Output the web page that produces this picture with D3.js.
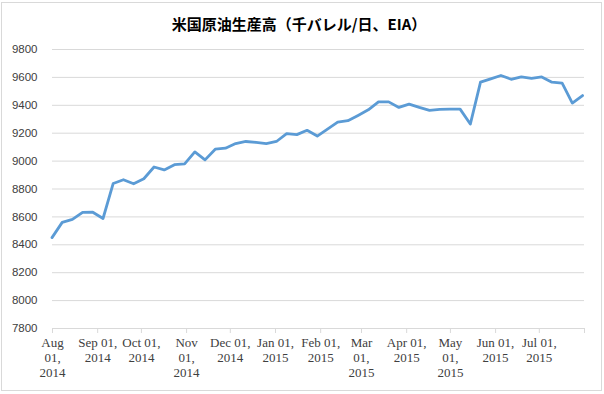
<!DOCTYPE html>
<html>
<head>
<meta charset="utf-8">
<script src="https://cdn.jsdelivr.net/npm/d3@7"></script>
<style>
  body { margin: 0; background: #fff; }
</style>
</head>
<body>
<svg id="chart" width="604" height="394"></svg>
<script>
// Data (weekly)
const weekDates = [
  "2014-08-01", "2014-08-08", "2014-08-15", "2014-08-22", "2014-08-29",
  "2014-09-05", "2014-09-12", "2014-09-19", "2014-09-26",
  "2014-10-03", "2014-10-10", "2014-10-17", "2014-10-24", "2014-10-31",
  "2014-11-07", "2014-11-14", "2014-11-21", "2014-11-28",
  "2014-12-05", "2014-12-12", "2014-12-19", "2014-12-26",
  "2015-01-02", "2015-01-09", "2015-01-16", "2015-01-23", "2015-01-30",
  "2015-02-06", "2015-02-13", "2015-02-20", "2015-02-27",
  "2015-03-06", "2015-03-13", "2015-03-20", "2015-03-27",
  "2015-04-03", "2015-04-10", "2015-04-17", "2015-04-24",
  "2015-05-01", "2015-05-08", "2015-05-15", "2015-05-22", "2015-05-29",
  "2015-06-05", "2015-06-12", "2015-06-19", "2015-06-26",
  "2015-07-03", "2015-07-10", "2015-07-17", "2015-07-24", "2015-07-31"
];
const production = [
  8448, 8557, 8578, 8629, 8630,
  8585, 8836, 8863, 8834,
  8870, 8954, 8933, 8971, 8976,
  9062, 9005, 9082, 9089,
  9122, 9137, 9130, 9122,
  9137, 9193, 9186, 9217, 9176,
  9226, 9276, 9286, 9324,
  9364, 9421, 9421, 9381,
  9405, 9381, 9360, 9367,
  9369, 9369, 9262, 9562, 9586,
  9610, 9583, 9600, 9590,
  9600, 9562, 9555, 9412, 9466
];
const yTicks = [7800, 8000, 8200, 8400, 8600, 8800, 9000, 9200, 9400, 9600, 9800];
const monthTicks = [
  "2014-08-01", "2014-09-01", "2014-10-01", "2014-11-01", "2014-12-01",
  "2015-01-01", "2015-02-01", "2015-03-01", "2015-04-01", "2015-05-01",
  "2015-06-01", "2015-07-01", "2015-08-01"
];
const monthLabels = [
  ["Aug", "01,", "2014"], ["Sep 01,", "2014"], ["Oct 01,", "2014"],
  ["Nov", "01,", "2014"], ["Dec 01,", "2014"], ["Jan 01,", "2015"],
  ["Feb 01,", "2015"], ["Mar", "01,", "2015"], ["Apr 01,", "2015"],
  ["May", "01,", "2015"], ["Jun 01,", "2015"], ["Jul 01,", "2015"], []
];
const titleText = "米国原油生産高（千バレル/日、EIA）";

const width = 604, height = 394;
const margin = { top: 49, right: 20, bottom: 66, left: 52 };
const svg = d3.select("#chart");
const parse = d3.timeParse("%Y-%m-%d");

const data = weekDates.map((d, i) => ({ date: parse(d), value: production[i] }));
const tickDates = monthTicks.map(parse);

// Chart area border
svg.append("rect")
  .attr("x", 1.5).attr("y", 2.5)
  .attr("width", 600).attr("height", 388)
  .attr("fill", "#fff")
  .attr("stroke", "#d9d9d9");

const x = d3.scaleTime()
  .domain([tickDates[0], tickDates[tickDates.length - 1]])
  .range([margin.left, width - margin.right]);

const y = d3.scaleLinear()
  .domain([7800, 9800])
  .range([height - margin.bottom, margin.top]);

// Y gridlines + labels
const yAxis = svg.append("g")
  .attr("transform", `translate(${margin.left},0)`)
  .call(d3.axisLeft(y)
    .tickValues(yTicks)
    .tickSize(-(width - margin.right - margin.left))
    .tickPadding(14.5)
    .tickFormat(d3.format("d")));
yAxis.select(".domain").remove();
yAxis.selectAll("line").attr("stroke", "#d9d9d9");
yAxis.selectAll("text")
  .attr("fill", "#404040")
  .style("font-family", "'Liberation Sans', Arial, sans-serif")
  .style("font-size", "11.5px");

// X axis
const xAxis = svg.append("g")
  .attr("transform", `translate(0,${height - margin.bottom})`)
  .call(d3.axisBottom(x)
    .tickValues(tickDates)
    .tickSize(5)
    .tickFormat(""));
xAxis.select(".domain").attr("stroke", "#d9d9d9");
xAxis.selectAll(".tick line").attr("stroke", "#d9d9d9");
xAxis.selectAll(".tick text").remove();

xAxis.selectAll(".tick").each(function(d, i) {
  const t = d3.select(this).append("text")
    .attr("text-anchor", "middle")
    .attr("fill", "#404040")
    .style("font-family", "'Liberation Serif', 'Times New Roman', serif")
    .style("font-size", "13px");
  monthLabels[i].forEach((line, j) => {
    t.append("tspan").attr("x", 0).attr("y", 19 + j * 15).text(line);
  });
});

// Line
const line = d3.line()
  .x(d => x(d.date))
  .y(d => y(d.value));

svg.append("path")
  .datum(data)
  .attr("fill", "none")
  .attr("stroke", "#5b9bd5")
  .attr("stroke-width", 2.8)
  .attr("stroke-linejoin", "round")
  .attr("stroke-linecap", "round")
  .attr("d", line);

// Title
svg.append("text")
  .attr("x", 299).attr("y", 30)
  .attr("text-anchor", "middle")
  .attr("fill", "#000")
  .style("font-family", "'Noto Sans CJK JP', sans-serif")
  .style("font-weight", "bold")
  .style("font-size", "15px")
  .text(titleText);
</script>
</body>
</html>
